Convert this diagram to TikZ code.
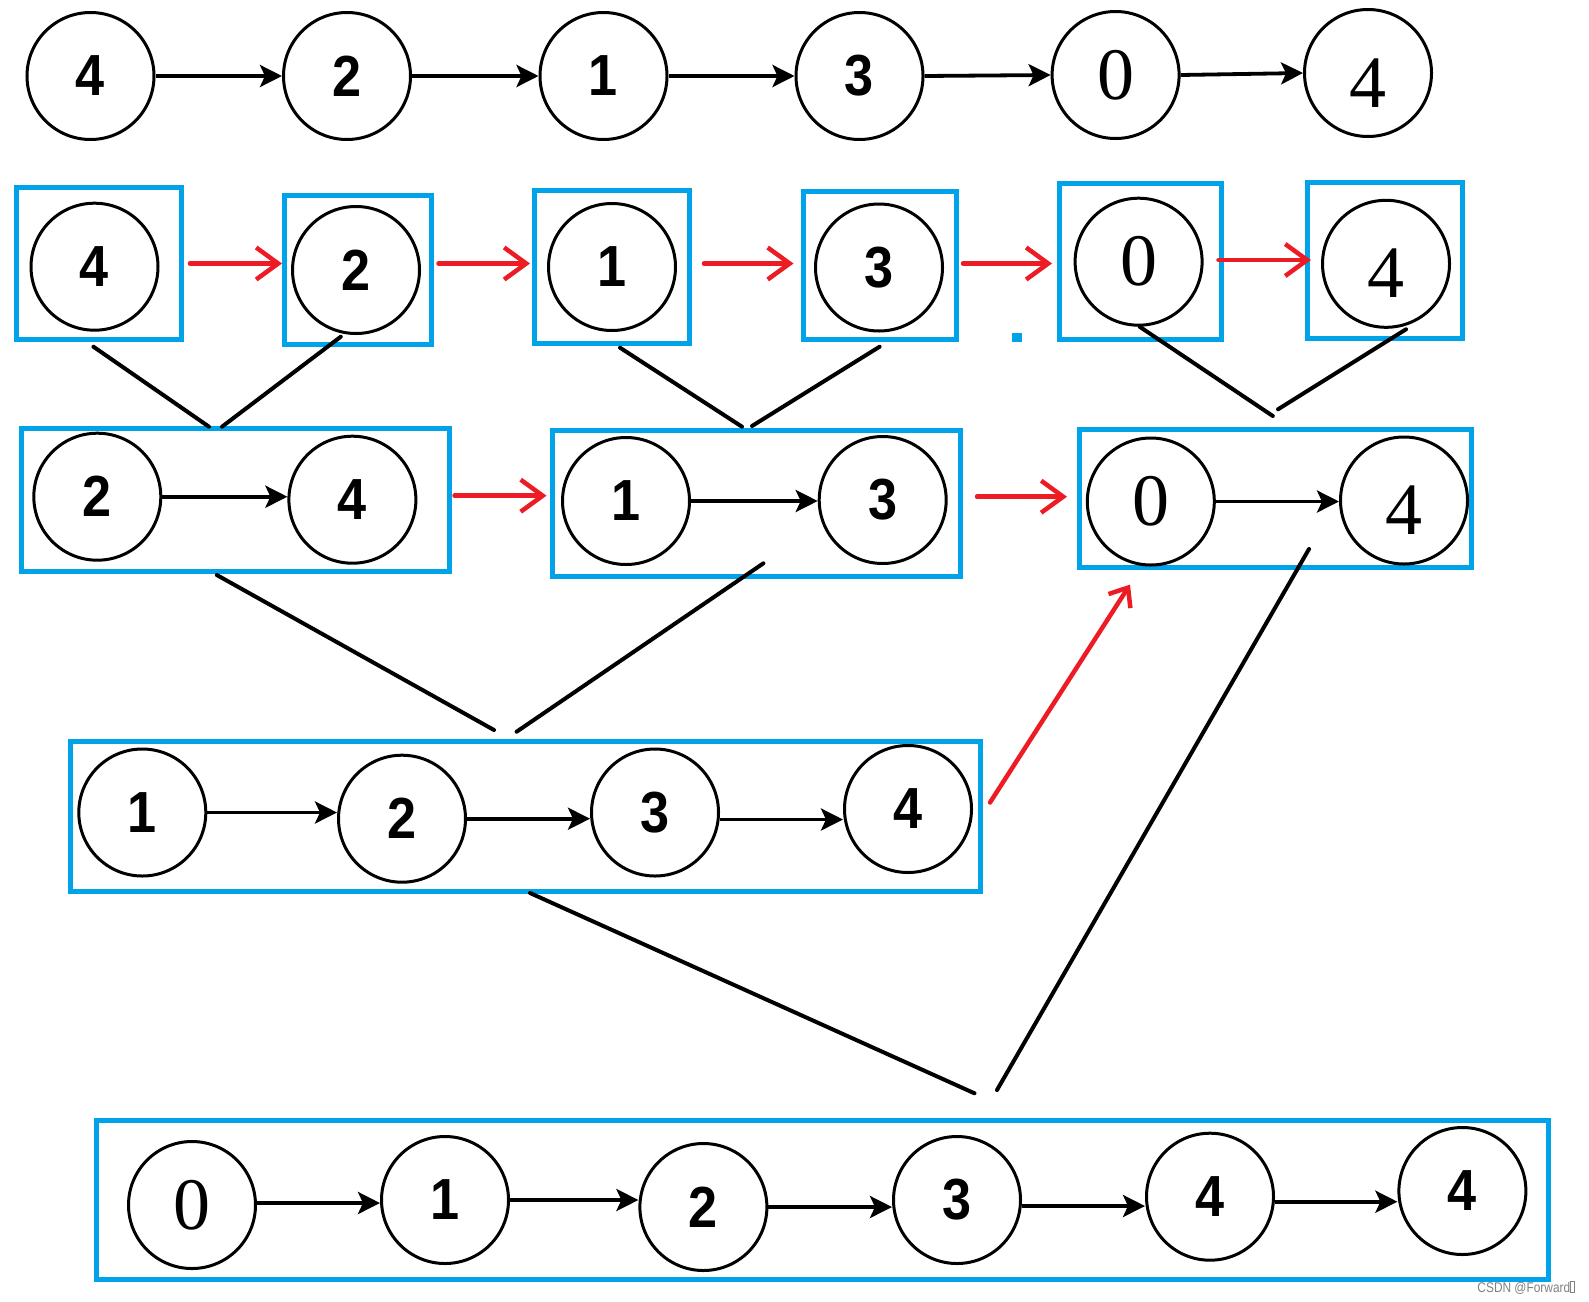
\documentclass[tikz,border=0pt]{standalone}
\usepackage{fontspec}
\setmainfont{Liberation Serif}
\newfontfamily\sansnum[FakeStretch=0.9]{Liberation Sans}
\newfontfamily\wmfont[FakeStretch=0.85]{Liberation Sans}
\usetikzlibrary{arrows.meta,calc}
\definecolor{pblue}{HTML}{00A2E8}
\definecolor{pred}{HTML}{ED1C24}
\begin{document}
\begin{tikzpicture}[x=1pt,y=-1pt,
  num/.style={circle,draw,line width=3pt,minimum size=127pt,inner sep=0pt},
  sb/.style={num,font=\sansnum\bfseries\fontsize{58}{58}\selectfont},
  sr/.style={num,font=\fontsize{74}{74}\selectfont},
  srfour/.style={sr,text height=68pt,text depth=0pt},
  bluebox/.style={draw=pblue,line width=5pt,rectangle,inner sep=0pt},
  chain/.style={line width=3.8pt,-{Stealth[length=22pt,width=22pt,inset=5pt]}},
  redarrow/.style={draw=pred,line width=4.5pt,line cap=round,-{Straight Barb[length=22pt,width=32pt]}},
  reddiag/.style={draw=pred,line width=4.5pt,line cap=round,-{Straight Barb[length=16pt,width=26pt]}},
  branch/.style={line width=4pt,line cap=round}]
\useasboundingbox (0,0) rectangle (1589,1301);

% ---------- top row ----------
\node[sb] (t1) at (90.5,76) {4};
\node[sb] (t2) at (347,76) {2};
\node[sb] (t3) at (603.5,76) {1};
\node[sb] (t4) at (859.5,76) {3};
\node[sr] (t5) at (1115.6,75) {0};
\node[srfour] (t6) at (1368,73) {4};
\draw[chain] (t1.east) -- (t2.west);
\draw[chain] (t2.east) -- (t3.west);
\draw[chain] (t3.east) -- (t4.west);
\draw[chain] (t4.east) -- (t5.west);
\draw[chain] (t5.east) -- (t6.west);

% ---------- second row ----------
\node[bluebox,minimum width=165pt,minimum height=152pt] (B1) at (99,263.5) {};
\node[bluebox,minimum width=146.5pt,minimum height=149pt] (B2) at (357.75,270) {};
\node[bluebox,minimum width=155pt,minimum height=153pt] (B3) at (612,267) {};
\node[bluebox,minimum width=153.5pt,minimum height=147.4pt] (B4) at (879.75,265.5) {};
\node[bluebox,minimum width=161.5pt,minimum height=155.5pt] (B5) at (1140.25,261.25) {};
\node[bluebox,minimum width=155pt,minimum height=155.5pt] (B6) at (1385,260.25) {};
\node[sb] (s1) at (94.5,266.7) {4};
\node[sb] (s2) at (356,270) {2};
\node[sb] (s3) at (612,267) {1};
\node[sb] (s4) at (879,267.5) {3};
\node[sr] (s5) at (1138.6,261.7) {0};
\node[srfour] (s6) at (1386,263.8) {4};
\draw[redarrow] ($(B1.east)+(6,0)$) -- (B1.east -| B2.west);
\draw[redarrow] ($(B2.east |- B1.east)+(5,0)$) -- ($(B3.west |- B1.east)+(-2,0)$);
\draw[redarrow] ($(B3.east |- B1.east)+(12,0)$) -- ($(B4.west |- B1.east)+(-7,0)$);
\draw[redarrow] ($(B4.east |- B1.east)+(4,0)$) -- ($(B5.west |- B1.east)+(-5,0)$);
\draw[redarrow] ($(B5.east |- s5)+(-5,-1.7)$) -- ($(B6.west |- s5)+(6,-1.7)$);
\fill[pblue] (1012,332.5) rectangle (1022,341.5);

% ---------- third row ----------
\node[bluebox,minimum width=427.5pt,minimum height=143.5pt] (BA) at (235.25,499.75) {};
\node[bluebox,minimum width=408.5pt,minimum height=146pt] (BB) at (756.25,503) {};
\node[bluebox,minimum width=392pt,minimum height=138.5pt] (BC) at (1275.5,498.25) {};
\node[sb] (a1) at (97.3,496.7) {2};
\node[sb] (a2) at (352.4,499.7) {4};
\node[sb] (b1) at (626,501) {1};
\node[sb] (b2) at (882.7,500) {3};
\node[sr] (c1) at (1150.8,501.5) {0};
\node[srfour] (c2) at (1404,500.5) {4};
\draw[chain] (a1.east) -- (a1.east -| a2.west);
\draw[chain] (b1.east) -- (b1.east -| b2.west);
\draw[chain] (c1.east) -- (c1.east -| c2.west);
\draw[redarrow] ($(BA.east |- a1)+(3,-1)$) -- ($(BB.west |- a1)+(-3,-1)$);
\draw[redarrow] ($(BB.east |- a1)+(14,0)$) -- ($(BC.west |- a1)+(-10,0)$);

% ---------- fourth row ----------
\node[bluebox,minimum width=910.5pt,minimum height=149.5pt] (BD) at (525.25,816.25) {};
\node[sb] (d1) at (142.3,812.5) {1};
\node[sb] (d2) at (402,818.7) {2};
\node[sb] (d3) at (655,812.5) {3};
\node[sb] (d4) at (908,809) {4};
\draw[chain] (d1.east) -- (d1.east -| d2.west);
\draw[chain] (d2.east) -- (d2.east -| d3.west);
\draw[chain] ($(d3.east)+(0,7)$) -- ($(d3.east -| d4.west)+(0,7)$);

% ---------- fifth row ----------
\node[bluebox,minimum width=1452pt,minimum height=159pt] (BE) at (822,1200) {};
\node[sr] (e1) at (192,1205) {0};
\node[sb] (e2) at (445,1200) {1};
\node[sb] (e3) at (703.4,1207) {2};
\node[sb] (e4) at (957,1200) {3};
\node[sb] (e5) at (1210,1196.7) {4};
\node[sb] (e6) at (1462.4,1191) {4};
\draw[chain] ($(e1.east)+(0,-2)$) -- ($(e1.east -| e2.west)+(0,-2)$);
\draw[chain] (e2.east) -- (e2.east -| e3.west);
\draw[chain] (e3.east) -- (e3.east -| e4.west);
\draw[chain] ($(e4.east)+(0,6)$) -- ($(e4.east -| e5.west)+(0,6)$);
\draw[chain] ($(e5.east)+(0,5)$) -- ($(e5.east -| e6.west)+(0,5)$);

% ---------- merge lines ----------
\coordinate (m1a) at (93.4,346.7);   \coordinate (m1b) at (209,426.7);
\coordinate (m2a) at (340.8,336.7);  \coordinate (m2b) at (222,426.7);
\coordinate (m3a) at (620,347.7);    \coordinate (m3b) at (742,426.7);
\coordinate (m4a) at (879.6,346.7);  \coordinate (m4b) at (752,426);
\coordinate (m5a) at (1139.6,326.7); \coordinate (m5b) at (1272.8,416);
\coordinate (m6a) at (1406,329.3);   \coordinate (m6b) at (1278,409.3);
\coordinate (m7a) at (216.8,575);    \coordinate (m7b) at (494,730);
\coordinate (m8a) at (763.4,563.3);  \coordinate (m8b) at (516.6,731.7);
\coordinate (m9a) at (530,893);      \coordinate (m9b) at (974.5,1093.3);
\coordinate (m10a) at (1309,549);    \coordinate (m10b) at (997,1090);
\foreach \p in {1,...,10} {\draw[branch] (m\p a) -- (m\p b);}

\coordinate (ra) at (990,802.5);
\coordinate (rb) at (1130,584.6);
\draw[reddiag] (ra) -- (rb);

% ---------- watermark ----------
\node[anchor=base east,inner sep=0pt,text=black!50,font=\wmfont\fontsize{14}{14}\selectfont] (wm) at (1575,1292)
  {CSDN @Forward{\fboxsep=0pt\fboxrule=0.8pt\fbox{\rule{3pt}{0pt}\rule{0pt}{10pt}}}};
\end{tikzpicture}
\end{document}
